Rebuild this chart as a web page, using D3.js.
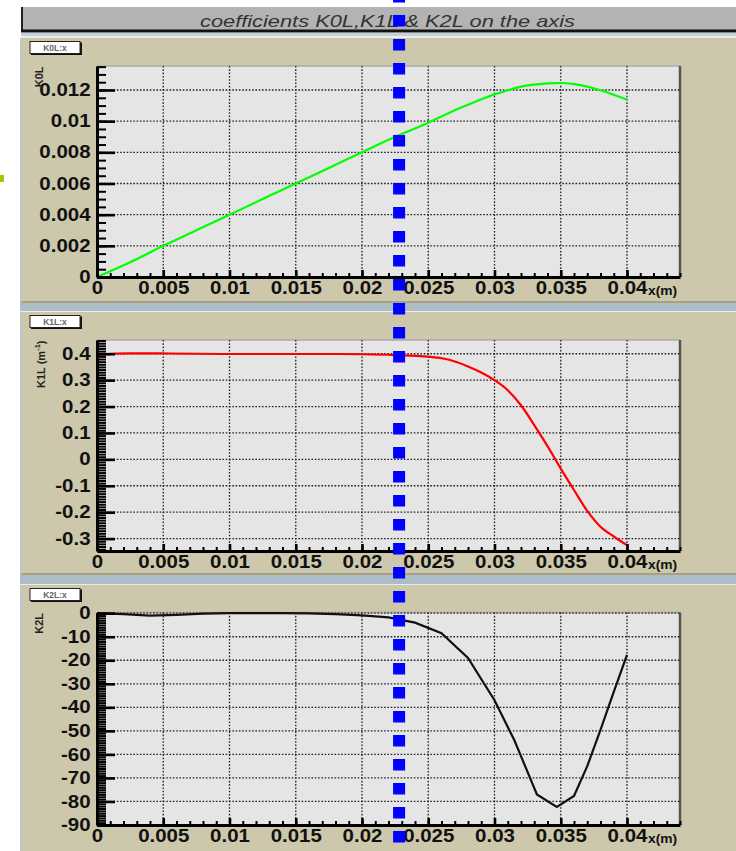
<!DOCTYPE html>
<html>
<head>
<meta charset="utf-8">
<script src="https://cdn.jsdelivr.net/npm/d3@7"></script>
<style>
  body { margin: 0; background: #fff; }
  svg { display: block; font-family: "Liberation Sans", Arial, sans-serif; }
</style>
</head>
<body>
<svg id="chart"></svg>
<script>
// values (x in metres)
const xK0L = [0, 0.0025, 0.005, 0.0075, 0.01, 0.0125, 0.015, 0.0175, 0.02, 0.0225,
  0.025, 0.026, 0.027, 0.028, 0.029, 0.03, 0.031, 0.032, 0.033, 0.034,
  0.035, 0.036, 0.037, 0.038, 0.039, 0.04];
const k0l = [0, 0.00095, 0.002, 0.003, 0.004, 0.005, 0.006, 0.007, 0.008, 0.009,
  0.0099, 0.0103, 0.0107, 0.01105, 0.0114, 0.01172, 0.01198, 0.01222, 0.01235, 0.01243,
  0.01245, 0.01238, 0.01222, 0.01198, 0.0117, 0.01138];

const xK1L = [0, 0.0025, 0.005, 0.0075, 0.01, 0.0125, 0.015, 0.0175, 0.02, 0.0225,
  0.025, 0.0265, 0.028, 0.029, 0.03, 0.031, 0.032, 0.033, 0.034, 0.035,
  0.036, 0.037, 0.038, 0.039, 0.04];
const k1l = [0.396, 0.401, 0.401, 0.400, 0.399, 0.399, 0.399, 0.399, 0.398, 0.395,
  0.389, 0.378, 0.352, 0.329, 0.300, 0.262, 0.205, 0.130, 0.050, -0.035,
  -0.116, -0.195, -0.255, -0.292, -0.325];

const xK2L = [0, 0.002, 0.004, 0.006, 0.008, 0.01, 0.012, 0.014, 0.016, 0.018,
  0.02, 0.022, 0.024, 0.026, 0.028, 0.03, 0.0315, 0.0332, 0.0347, 0.036,
  0.037, 0.038, 0.039, 0.04];
const k2l = [0, -0.4, -1.0, -0.7, -0.2, 0, 0, 0, -0.1, -0.4,
  -0.9, -1.8, -4.0, -8.5, -19, -37, -54, -77, -82.3, -77.7,
  -65, -49.6, -33.4, -17.7];

const xTicks = [0, 0.005, 0.01, 0.015, 0.02, 0.025, 0.03, 0.035, 0.04];
const k0lTicks = [0, 0.002, 0.004, 0.006, 0.008, 0.01, 0.012];
const k1lTicks = [-0.3, -0.2, -0.1, 0, 0.1, 0.2, 0.3, 0.4];
const k2lTicks = [-90, -80, -70, -60, -50, -40, -30, -20, -10, 0];

const markerX = 0.0228;   // the blue dashed marker
const titleText = 'coefficients K0L,K1L & K2L on the axis';

const width = 736, height = 851;
const frameLeft = 97, frameRight = 680;
const tan = '#cdc7ab';
const fmt = d => String(+d.toFixed(4));

const panels = [
  { label: 'K0L:x', title: 'K0L', top: 38, bottom: 303, fTop: 66, fBot: 277,
    domain: [0, 0.01354], ticks: k0lTicks, minor: 0.0005,
    xs: xK0L, ys: k0l, color: '#00ff00', curve: d3.curveMonotoneX },
  { label: 'K1L:x', title: 'K1L (m', sup: '-1', top: 312, bottom: 575, fTop: 340, fBot: 551,
    domain: [-0.347, 0.452], ticks: k1lTicks, minor: 0.01,
    xs: xK1L, ys: k1l, color: '#ff0000', curve: d3.curveMonotoneX },
  { label: 'K2L:x', title: 'K2L', top: 585, bottom: 851, fTop: 612.5, fBot: 825,
    domain: [-90, 0.3], ticks: k2lTicks, minor: 1,
    xs: xK2L, ys: k2l, color: '#111', curve: d3.curveLinear }
];

const svg = d3.select('#chart').attr('width', width).attr('height', height);

const x = d3.scaleLinear().domain([0, 0.044]).range([frameLeft, frameRight]);

// title bar
svg.append('rect').attr('x', 21).attr('y', 7).attr('width', width - 21).attr('height', 25).attr('fill', '#b3b3b3');
svg.append('line').attr('x1', 22).attr('x2', 22).attr('y1', 7).attr('y2', 32).attr('stroke', '#222').attr('stroke-width', 2);
svg.append('line').attr('x1', 21).attr('x2', width).attr('y1', 31).attr('y2', 31).attr('stroke', '#111').attr('stroke-width', 3);
svg.append('rect').attr('x', 21).attr('y', 33).attr('width', width - 21).attr('height', 3).attr('fill', '#c3d1da');
svg.append('rect').attr('x', 21).attr('y', 36).attr('width', width - 21).attr('height', 2).attr('fill', '#eeeee6');
svg.append('text')
  .attr('x', 387.5).attr('y', 27)
  .attr('text-anchor', 'middle')
  .attr('font-size', 16.5).attr('font-style', 'italic')
  .attr('fill', '#333')
  .attr('textLength', 375).attr('lengthAdjust', 'spacingAndGlyphs')
  .text(titleText);

// stray green mark at the left edge
svg.append('rect').attr('x', 0).attr('y', 175).attr('width', 4).attr('height', 7).attr('fill', '#9acd00');

panels.forEach((p, i) => {
  const g = svg.append('g');

  // panel background with bevel and separator
  g.append('rect').attr('x', 21).attr('y', p.top).attr('width', width - 21).attr('height', p.bottom - p.top).attr('fill', tan);
  g.append('rect').attr('x', 20).attr('y', p.top).attr('width', 2).attr('height', p.bottom - p.top).attr('fill', '#bcc8cf');
  if (i < panels.length - 1) {
    g.append('rect').attr('x', 21).attr('y', p.bottom - 2).attr('width', width - 21).attr('height', 2).attr('fill', '#a7a184');
    g.append('rect').attr('x', 20).attr('y', p.bottom).attr('width', width - 20).attr('height', panels[i + 1].top - p.bottom - 1).attr('fill', '#adbdc7');
    g.append('rect').attr('x', 20).attr('y', panels[i + 1].top - 1).attr('width', width - 20).attr('height', 1.5).attr('fill', '#ecece4');
  }

  // label box
  const by = p.top + 3.5;
  g.append('rect').attr('x', 31).attr('y', by + 1).attr('width', 51).attr('height', 12.5).attr('fill', '#111');
  g.append('rect').attr('x', 30).attr('y', by).attr('width', 50).attr('height', 12).attr('fill', '#fff').attr('stroke', '#222').attr('stroke-width', 1);
  g.append('text').attr('x', 55).attr('y', by + 9.5).attr('text-anchor', 'middle')
    .attr('font-size', 8.5).attr('font-weight', 'bold').attr('fill', '#666').text(p.label);

  const y = d3.scaleLinear().domain(p.domain).range([p.fBot, p.fTop]);

  // frame
  g.append('rect').attr('x', frameLeft).attr('y', p.fTop).attr('width', frameRight - frameLeft).attr('height', p.fBot - p.fTop).attr('fill', '#e5e5e5');
  g.append('line').attr('x1', frameLeft).attr('x2', frameRight).attr('y1', p.fTop).attr('y2', p.fTop).attr('stroke', '#aaa').attr('stroke-width', 1.5);
  g.append('line').attr('x1', frameRight).attr('x2', frameRight).attr('y1', p.fTop).attr('y2', p.fBot).attr('stroke', '#555').attr('stroke-width', 2.5);

  // dotted grid
  const grid = g.append('g').attr('stroke', '#222').attr('stroke-width', 1.3).attr('stroke-dasharray', '1.6,1.7');
  grid.selectAll('.gx').data(xTicks.filter(d => d > 0)).join('line')
    .attr('x1', d => x(d)).attr('x2', d => x(d)).attr('y1', p.fTop).attr('y2', p.fBot);
  grid.selectAll('.gy').data(p.ticks.filter(d => y(d) < p.fBot - 1)).join('line')
    .attr('x1', frameLeft).attr('x2', frameRight).attr('y1', d => y(d)).attr('y2', d => y(d));

  // curve
  const line = d3.line().x(d => x(d[0])).y(d => y(d[1])).curve(p.curve);
  g.append('path').datum(d3.zip(p.xs, p.ys))
    .attr('d', line).attr('fill', 'none').attr('stroke', p.color).attr('stroke-width', 2.2);

  // minor ticks
  const yMinor = d3.range(Math.ceil(p.domain[0] / p.minor), Math.floor(p.domain[1] / p.minor) + 1)
    .map(k => +(k * p.minor).toFixed(5));
  g.append('g').attr('transform', `translate(${frameLeft},0)`)
    .call(d3.axisLeft(y).tickValues(yMinor).tickSizeInner(-9).tickSizeOuter(0).tickFormat(''))
    .call(a => a.select('.domain').remove())
    .call(a => a.selectAll('line').attr('stroke', '#000').attr('stroke-width', 2));
  const xMinor = d3.range(0, 45).map(k => k / 1000);
  g.append('g').attr('transform', `translate(0,${p.fBot})`)
    .call(d3.axisBottom(x).tickValues(xMinor).tickSizeInner(-4).tickSizeOuter(0).tickFormat(''))
    .call(a => a.select('.domain').remove())
    .call(a => a.selectAll('line').attr('stroke', '#000').attr('stroke-width', 2));

  // major axes
  const yAxis = g.append('g').attr('transform', `translate(${frameLeft},0)`)
    .call(d3.axisLeft(y).tickValues(p.ticks).tickSizeInner(-18).tickSizeOuter(0).tickPadding(5.5).tickFormat(fmt));
  const xAxis = g.append('g').attr('transform', `translate(0,${p.fBot})`)
    .call(d3.axisBottom(x).tickValues(xTicks).tickSizeInner(-7).tickSizeOuter(0).tickPadding(5).tickFormat(fmt));

  [yAxis, xAxis].forEach(a => {
    a.select('.domain').attr('stroke', '#000').attr('stroke-width', 3);
    a.selectAll('.tick line').attr('stroke', '#000').attr('stroke-width', 2.6);
    a.selectAll('.tick text')
      .attr('font-family', '"Liberation Sans", Arial, sans-serif')
      .attr('font-size', 17.5).attr('font-weight', 'bold').attr('fill', '#111')
      .attr('transform', 'scale(1.17,1)');
  });

  // x axis unit
  g.append('text')
    .attr('transform', `translate(648,${p.fBot + 18}) scale(1.15,1)`)
    .attr('font-size', 12).attr('font-weight', 'bold').attr('fill', '#111')
    .text('x(m)');

  // y axis title
  const t = g.append('text')
    .attr('transform', `translate(${p.sup ? 44.5 : 43},${p.fTop + 0.5}) rotate(-90)`)
    .attr('text-anchor', 'end')
    .attr('font-size', 11).attr('font-weight', 'bold').attr('fill', '#222');
  t.append('tspan').text(p.title);
  if (p.sup) {
    t.append('tspan').attr('font-size', 7.5).attr('dy', -4.5).text(p.sup);
    t.append('tspan').attr('dy', 4.5).text(')');
  }
});

// blue dashed marker across the whole figure
svg.append('line')
  .attr('x1', x(markerX)).attr('x2', x(markerX))
  .attr('y1', 0).attr('y2', height)
  .attr('stroke', '#0000ff').attr('stroke-width', 12)
  .attr('stroke-dasharray', '11.5,12.5').attr('stroke-dashoffset', 9);
</script>
</body>
</html>
